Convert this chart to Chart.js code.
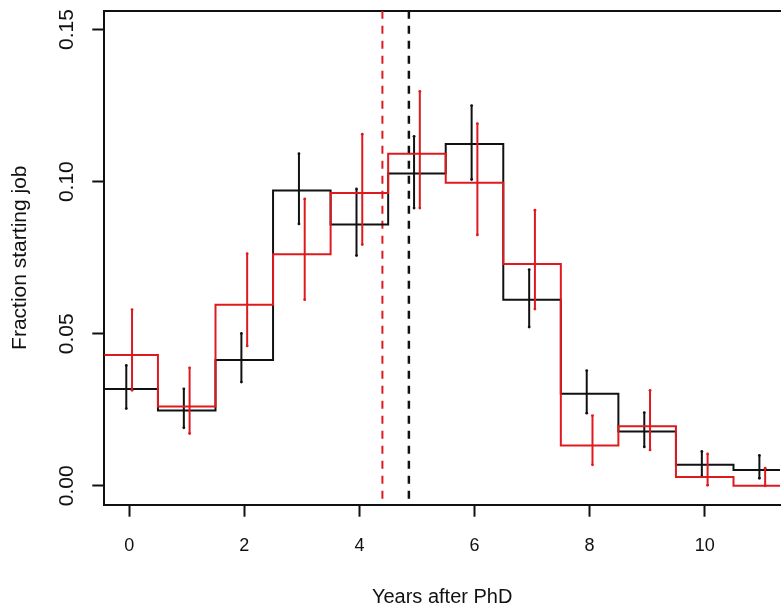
<!DOCTYPE html>
<html>
<head>
<meta charset="utf-8">
<script src="https://cdn.jsdelivr.net/npm/chart.js@4"></script>
<style>
  html, body { margin: 0; padding: 0; background: #fff; overflow: hidden; }
  #wrap { width: 784px; height: 609px; }
</style>
</head>
<body>
<div id="wrap"><canvas id="jobChart" width="784" height="609"></canvas></div>
<script>
// years after PhD (bin centres)
const years = [0, 1, 2, 3, 4, 5, 6, 7, 8, 9, 10, 11];

// black series: fraction starting job, with error bar ends
const blackVals = [0.0318, 0.0248, 0.0414, 0.0971, 0.0859, 0.1027, 0.1124, 0.0612, 0.0303, 0.0179, 0.0069, 0.0052];
const blackLo   = [0.0254, 0.0191, 0.0341, 0.0861, 0.0757, 0.0913, 0.1007, 0.0522, 0.0239, 0.0128, 0.0031, 0.0025];
const blackHi   = [0.0396, 0.0319, 0.0501, 0.1092, 0.0976, 0.1149, 0.1250, 0.0711, 0.0379, 0.0241, 0.0113, 0.0100];

// red series
const redVals = [0.0430, 0.0261, 0.0595, 0.0761, 0.0963, 0.1092, 0.0996, 0.0729, 0.0133, 0.0196, 0.0029, 0.0000];
const redLo   = [0.0314, 0.0172, 0.0460, 0.0612, 0.0793, 0.0913, 0.0825, 0.0581, 0.0069, 0.0118, 0.0002, 0.0000];
const redHi   = [0.0579, 0.0388, 0.0763, 0.0943, 0.1156, 0.1297, 0.1191, 0.0906, 0.0231, 0.0314, 0.0105, 0.0058];

// means (dashed vertical lines)
const blackMean = 4.86;
const redMean = 4.40;

// axes
const xTicks = [0, 2, 4, 6, 8, 10];
const yTicks = [0, 0.05, 0.10, 0.15];
const xRange = [-0.432, 11.308];
const yRange = [-0.0062, 0.1562];

const BLACK = "#111111";
const RED = "#df1a1f";
const FONT = "'Liberation Sans', Arial, Helvetica, sans-serif";

// step outline: horizontal segment over each bin [k-0.5, k+0.5]
function stepPoints(vals) {
  const pts = years.map((yr, i) => ({ x: yr - 0.5, y: vals[i] }));
  pts.push({ x: years[years.length - 1] + 0.5, y: vals[vals.length - 1] });
  return pts;
}

// error bars as separate segments, broken by null points
function errPoints(lo, hi, dx) {
  const pts = [];
  years.forEach((yr, i) => {
    pts.push({ x: yr + dx, y: lo[i] });
    pts.push({ x: yr + dx, y: hi[i] });
    pts.push({ x: yr + dx, y: null });
  });
  return pts;
}

// vertical line drawn top to bottom so the dash pattern starts at the top
function vline(xv) {
  return [{ x: xv, y: yRange[1] }, { x: xv, y: yRange[0] }];
}

const ctx = document.getElementById("jobChart");

new Chart(ctx, {
  type: "line",
  data: {
    datasets: [
      { data: stepPoints(redVals), borderColor: RED, borderWidth: 2, stepped: true, pointRadius: 0, order: 1 },
      { data: errPoints(redLo, redHi, 0.05), borderColor: RED, backgroundColor: RED, borderWidth: 2,
        pointRadius: 1.4, pointBorderWidth: 0, spanGaps: false, order: 1 },
      { data: stepPoints(blackVals), borderColor: BLACK, borderWidth: 2, stepped: true, pointRadius: 0, order: 2 },
      { data: errPoints(blackLo, blackHi, -0.05), borderColor: BLACK, backgroundColor: BLACK, borderWidth: 2,
        pointRadius: 1.4, pointBorderWidth: 0, spanGaps: false, order: 2 },
      { data: vline(redMean), borderColor: RED, borderWidth: 2, borderDash: [8, 7], pointRadius: 0, order: 3 },
      { data: vline(blackMean), borderColor: BLACK, borderWidth: 2.5, borderDash: [8, 7], pointRadius: 0, order: 3 }
    ]
  },
  options: {
    responsive: false,
    animation: false,
    devicePixelRatio: 1,
    layout: { padding: { top: 10.7, right: 0, bottom: 0, left: 0 } },
    plugins: { legend: { display: false }, tooltip: { enabled: false } },
    elements: { line: { tension: 0 } },
    scales: {
      x: {
        type: "linear",
        position: "bottom",
        min: xRange[0],
        max: xRange[1],
        afterBuildTicks: (s) => { s.ticks = xTicks.map((v) => ({ value: v })); },
        afterFit: (s) => { s.height = 104.3; s.paddingLeft = 0; s.paddingRight = 0; },
        ticks: {
          color: BLACK,
          font: { family: FONT, size: 18 },
          padding: 18.5,
          maxRotation: 0,
          minRotation: 0,
          callback: (v) => String(v)
        },
        grid: { drawOnChartArea: false, tickLength: 12, tickWidth: 2, tickColor: BLACK },
        border: { display: true, color: BLACK, width: 2 },
        title: {
          display: true,
          text: "Years after PhD",
          color: BLACK,
          font: { family: FONT, size: 20, lineHeight: 1 },
          padding: { top: 0, bottom: 2 }
        }
      },
      xTop: {
        type: "linear",
        position: "top",
        min: xRange[0],
        max: xRange[1],
        afterFit: (s) => { s.height = 0; s.paddingLeft = 0; s.paddingRight = 0; },
        ticks: { display: false },
        grid: { drawOnChartArea: false, drawTicks: false },
        border: { display: true, color: BLACK, width: 2 }
      },
      y: {
        type: "linear",
        position: "left",
        min: yRange[0],
        max: yRange[1],
        afterBuildTicks: (s) => { s.ticks = yTicks.map((v) => ({ value: v })); },
        afterFit: (s) => { s.width = 104.3; s.paddingTop = 0; s.paddingBottom = 0; },
        ticks: {
          color: BLACK,
          font: { family: FONT, size: 21 },
          padding: 4.5,
          minRotation: 90,
          maxRotation: 90,
          crossAlign: "center",
          callback: (v) => v.toFixed(2)
        },
        grid: { drawOnChartArea: false, tickLength: 12, tickWidth: 2, tickColor: BLACK },
        border: { display: true, color: BLACK, width: 2 },
        title: {
          display: true,
          text: "Fraction starting job",
          color: BLACK,
          font: { family: FONT, size: 21 },
          padding: { top: 8, bottom: 0 }
        }
      }
    }
  }
});
</script>
</body>
</html>
